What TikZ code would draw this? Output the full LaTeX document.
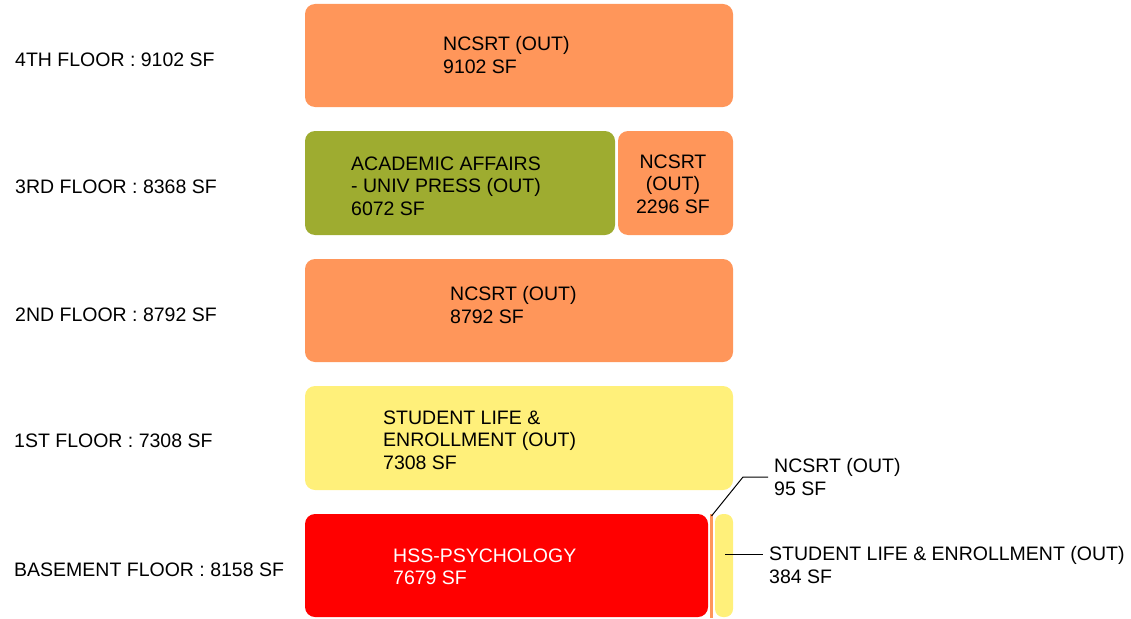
\documentclass[tikz,border=0pt]{standalone}
\usepackage{fontspec}
\setmainfont{Liberation Sans}
\definecolor{ncsrtorange}{RGB}{255,150,90}
\definecolor{affairsgreen}{RGB}{158,172,48}
\definecolor{lifeyellow}{RGB}{255,240,122}
\definecolor{psyred}{RGB}{255,0,0}

\begin{document}
\begin{tikzpicture}[x=1pt, y=-1pt,
    room/.style={rounded corners=10pt},
    lbl/.style={anchor=west, align=left, inner sep=0pt, font=\fontsize{19.5}{22.5}\selectfont}]
    \useasboundingbox (0,0) rectangle (1131,618);

    % 4th floor
    \fill[room, ncsrtorange] (305,4) rectangle (733,107);
    \node[lbl] (f4) at (15,60) {4TH FLOOR : 9102 SF};
    \node[lbl] (r4) at (443,55) {NCSRT (OUT)\\9102 SF};

    % 3rd floor
    \fill[room, affairsgreen] (305,131) rectangle (615,235);
    \fill[room, ncsrtorange] (618,131) rectangle (733,235);
    \node[lbl] (f3) at (15,187) {3RD FLOOR : 8368 SF};
    \node[lbl] (r3a) at (351,186) {ACADEMIC AFFAIRS\\- UNIV PRESS (OUT)\\6072 SF};
    \node[lbl, anchor=center, align=center] (r3b) at (673,184) {NCSRT\\(OUT)\\2296 SF};

    % 2nd floor
    \fill[room, ncsrtorange] (305,259) rectangle (733,362);
    \node[lbl] (f2) at (15,315) {2ND FLOOR : 8792 SF};
    \node[lbl] (r2) at (450,305) {NCSRT (OUT)\\8792 SF};

    % 1st floor
    \fill[room, lifeyellow] (305,386) rectangle (733,490);
    \node[lbl] (f1) at (14,441) {1ST FLOOR : 7308 SF};
    \node[lbl] (r1) at (383,440) {STUDENT LIFE \&\\ENROLLMENT (OUT)\\7308 SF};

    % Basement
    \fill[room, psyred] (305,514) rectangle (708,617);
    \fill[ncsrtorange] (710,514) rectangle (713,618);
    \fill[room, rounded corners=8pt, lifeyellow] (715,514) rectangle (733,617);
    \node[lbl] (fb) at (14,570) {BASEMENT FLOOR : 8158 SF};
    \node[lbl, text=white] (rb) at (393,567) {HSS-PSYCHOLOGY\\7679 SF};

    % Callouts
    \node[lbl] (t95) at (774,477) {NCSRT (OUT)\\95 SF};
    \node[lbl] (t384) at (769,565) {STUDENT LIFE \& ENROLLMENT (OUT)\\384 SF};
    \coordinate (tip95) at (711.5,516);
    \coordinate (elbow95) at ([xshift=-31pt]t95.west);
    \coordinate (tip384) at (725,554);
    \draw[line width=1pt] (tip95) -- (elbow95) -- ([xshift=-6pt]t95.west);
    \draw[line width=1pt] (tip384) -- ([xshift=-6pt]tip384 -| t384.west);
\end{tikzpicture}
\end{document}
